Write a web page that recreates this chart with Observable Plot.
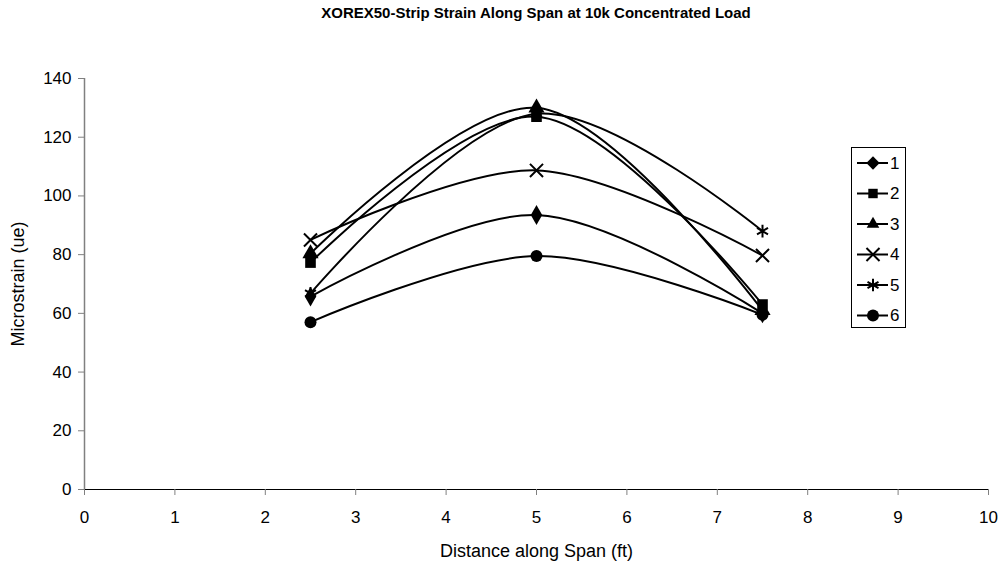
<!DOCTYPE html>
<html>
<head>
<meta charset="utf-8">
<script src="https://cdn.jsdelivr.net/npm/d3@7"></script>
<script src="https://cdn.jsdelivr.net/npm/@observablehq/plot@0.6"></script>
<style>
  html, body { margin: 0; padding: 0; background: #fff; }
  #wrap { position: relative; width: 1003px; height: 569px; font-family: "Liberation Sans", Arial, sans-serif; }
  #title { position: absolute; left: 84px; width: 904px; top: 4px; text-align: center; font-weight: bold; font-size: 15px; color: #000; }
  #chart { position: absolute; left: 0; top: 26px; }
</style>
</head>
<body>
<div id="wrap">
  <div id="title">XOREX50-Strip Strain Along Span at 10k Concentrated Load</div>
  <div id="chart"></div>
</div>
<script>
const distances = [2.5, 5, 7.5];
const seriesNames = ["1", "2", "3", "4", "5", "6"];
const s1 = [65.7, 93.5, 60];
const s2 = [77.3, 127, 63];
const s3 = [80.4, 130, 61];
const s4 = [85, 108.7, 79.7];
const s5 = [66.8, 128, 88];
const s6 = [57, 79.5, 59.5];
const symbols = ["diamond", "square", "triangle", "times", "asterisk", "circle"];
const xTicks = [0, 1, 2, 3, 4, 5, 6, 7, 8, 9, 10];
const yTicks = [0, 20, 40, 60, 80, 100, 120, 140];

const allSeries = [s1, s2, s3, s4, s5, s6];
const rows = [];
allSeries.forEach((vals, i) => {
  vals.forEach((v, j) => rows.push({series: seriesNames[i], sym: symbols[i], x: distances[j], y: v}));
});
const filled = new Set(["diamond", "square", "triangle", "circle"]);

const W = 1003, H = 543;
const font = "\"Liberation Sans\", Arial, sans-serif";
const fs = 17;
const fsLabel = 18;

const plot = Plot.plot({
  width: W,
  height: H,
  marginLeft: 84,
  marginRight: 15,
  marginTop: 52,
  marginBottom: 80,
  style: {fontFamily: font, fontSize: fs + "px", color: "#000", background: "#fff"},
  x: {domain: [0, 10], ticks: xTicks, label: null},
  y: {domain: [0, 140], ticks: yTicks, label: null},
  symbol: {domain: symbols, range: symbols},
  marks: [
    Plot.ruleX([0], {stroke: "#808080", strokeWidth: 1.5}),
    Plot.ruleY([0], {stroke: "#000", strokeWidth: 1}),
    Plot.axisY({ticks: yTicks, tickSize: 6, tickPadding: 7, stroke: "#808080", fontSize: fs, label: null}),
    Plot.axisX({ticks: xTicks, tickSize: 6, tickPadding: 15, stroke: "#808080", fontSize: fs, label: null}),
    Plot.line(rows, {x: "x", y: "y", z: "series", curve: "catmull-rom", stroke: "#000", strokeWidth: 2}),
    Plot.dot(rows.filter(d => filled.has(d.sym)), {x: "x", y: "y", symbol: "sym", r: 6, fill: "#000", stroke: "none"}),
    Plot.dot(rows.filter(d => !filled.has(d.sym)), {x: "x", y: "y", symbol: "sym", r: 6, fill: "none", stroke: "#000", strokeWidth: 2}),
    Plot.text(["Distance along Span (ft)"], {frameAnchor: "bottom", textAnchor: "middle", lineAnchor: "middle", dy: 62, fontSize: fsLabel}),
    Plot.text(["Microstrain (ue)"], {frameAnchor: "left", textAnchor: "middle", lineAnchor: "middle", dx: -66, rotate: -90, fontSize: fsLabel})
  ]
});
document.getElementById("chart").appendChild(plot);

// Legend
const lg = d3.select("#wrap").append("svg")
  .attr("width", W).attr("height", 569)
  .style("position", "absolute").style("left", 0).style("top", 0);
const lx = 851, ly = 147, lw = 54, lh = 180, rowH = 30.5;
lg.append("rect").attr("x", lx + 0.5).attr("y", ly + 0.5).attr("width", lw).attr("height", lh)
  .attr("fill", "#fff").attr("stroke", "#000").attr("stroke-width", 1);
const symMap = {diamond: d3.symbolDiamond2, square: d3.symbolSquare2, triangle: d3.symbolTriangle2, times: d3.symbolTimes, asterisk: d3.symbolAsterisk, circle: d3.symbolCircle};
seriesNames.forEach((name, i) => {
  const cy = ly + 16 + i * rowH;
  lg.append("line").attr("x1", lx + 6).attr("x2", lx + 37).attr("y1", cy).attr("y2", cy)
    .attr("stroke", "#000").attr("stroke-width", 2);
  const s = symbols[i];
  const p = lg.append("path").attr("transform", `translate(${lx + 22},${cy})`)
    .attr("d", d3.symbol(symMap[s], Math.PI * 6 * 6)());
  if (filled.has(s)) p.attr("fill", "#000");
  else p.attr("fill", "none").attr("stroke", "#000").attr("stroke-width", 2);
  lg.append("text").attr("x", lx + 39).attr("y", cy).attr("dy", "0.35em")
    .attr("font-family", font).attr("font-size", fs).text(name);
});
</script>
</body>
</html>
